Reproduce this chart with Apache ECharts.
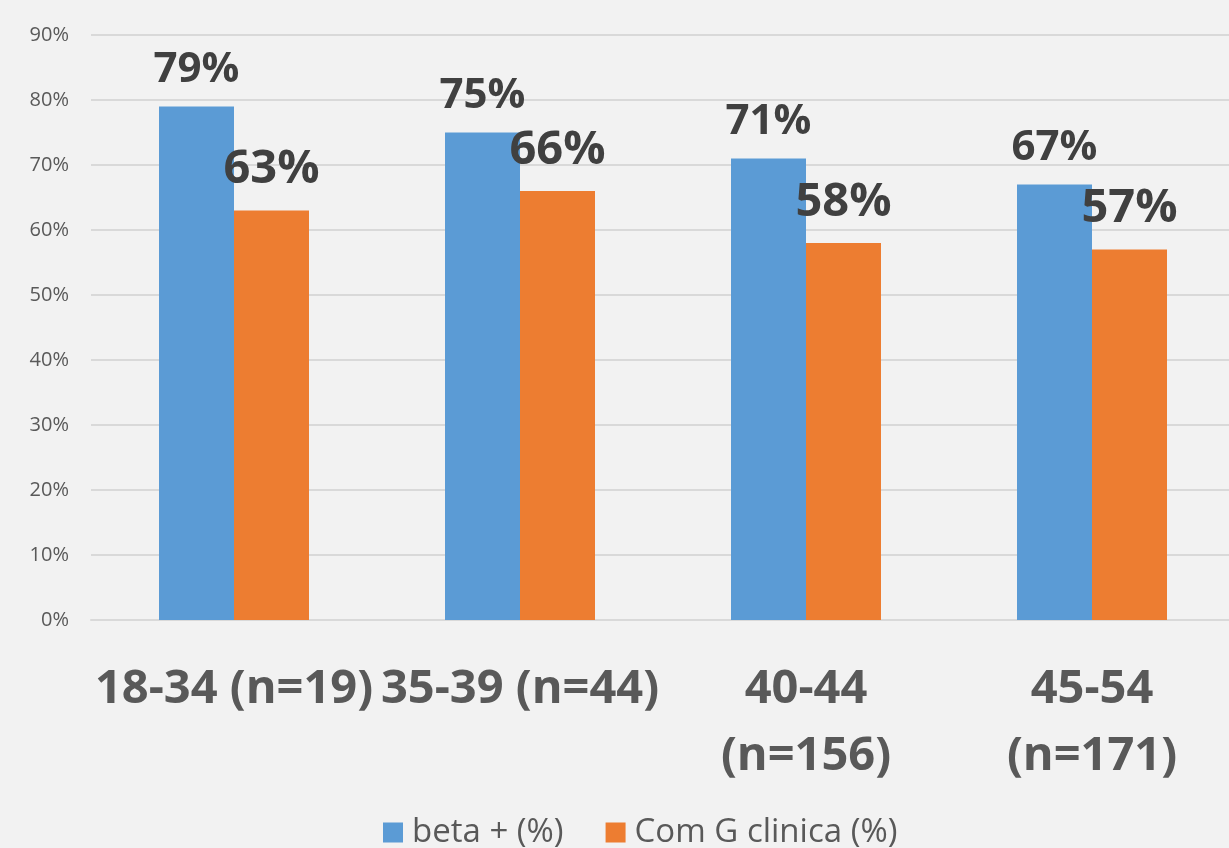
<!DOCTYPE html>
<html>
<head>
<meta charset="utf-8">
<script src="https://cdn.jsdelivr.net/npm/echarts@6/dist/echarts.min.js"></script>
<style>
  html, body { margin: 0; padding: 0; background: #f2f2f2; }
  #chart { width: 1229px; height: 848px; }
</style>
</head>
<body>
<div id="chart"></div>
<script>
// faixas etárias (eixo x)
const categories = ['18-34 (n=19)', '35-39 (n=44)', '40-44\n(n=156)', '45-54\n(n=171)']
const betaPos = [79, 75, 71, 67]
const comGClinica = [63, 66, 58, 57]
const seriesNames = ['beta + (%)', 'Com G clinica (%)']

const chart = echarts.init(document.getElementById('chart'))

const valueLabel = (size, dist) => ({
    show: true,
    position: 'top',
    distance: dist,
    formatter: '{c}%',
    fontFamily: 'Open Sans',
    fontWeight: 'bold',
    fontSize: size,
    color: '#404040'
})

const option = {
    backgroundColor: '#f2f2f2',
    animation: false,
    grid: {
        left: 91,
        right: -6,
        top: 35,
        bottom: 228,
        outerBoundsMode: 'none'
    },
    legend: {
        data: seriesNames,
        bottom: -6,
        left: 378,
        itemWidth: 20,
        itemHeight: 20,
        itemGap: 42,
        icon: 'rect',
        textStyle: {
            fontFamily: 'Open Sans',
            fontSize: 33,
            color: '#595959',
            padding: [0, 0, 0, 4]
        }
    },
    xAxis: {
        type: 'category',
        data: categories,
        axisLine: {lineStyle: {color: '#d9d9d9', width: 2}},
        axisTick: {show: false},
        axisLabel: {
            interval: 0,
            margin: 36,
            fontFamily: 'Open Sans',
            fontWeight: 'bold',
            fontSize: 47,
            lineHeight: 67,
            color: '#595959'
        }
    },
    yAxis: {
        type: 'value',
        min: 0,
        max: 90,
        interval: 10,
        axisLine: {show: false},
        axisTick: {show: false},
        splitLine: {lineStyle: {color: '#d9d9d9', width: 2}},
        axisLabel: {
            formatter: '{value}%',
            margin: 22,
            fontFamily: 'Open Sans',
            fontSize: 20,
            color: '#595959'
        }
    },
    series: [
        {
            name: seriesNames[0],
            type: 'bar',
            data: betaPos,
            barWidth: 75,
            barGap: '0%',
            itemStyle: {color: '#5b9bd5'},
            label: valueLabel(42, 15)
        },
        {
            name: seriesNames[1],
            type: 'bar',
            data: comGClinica,
            barWidth: 75,
            itemStyle: {color: '#ed7d31'},
            label: valueLabel(47, 17)
        }
    ]
}

chart.setOption(option)
</script>
</body>
</html>
